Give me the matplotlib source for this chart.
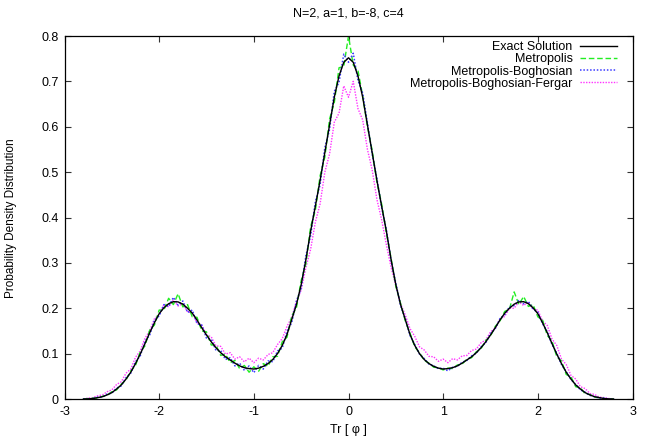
import numpy as np
import matplotlib
matplotlib.use("Agg")
import matplotlib.pyplot as plt

plt.rcParams['font.family'] = ['Liberation Sans', 'DejaVu Sans']

title = "N=2, a=1, b=-8, c=4"
xlabel = "Tr [ \u03c6 ]"
ylabel = "Probability Density Distribution"
labels = ["Exact Solution", "Metropolis", "Metropolis-Boghosian", "Metropolis-Boghosian-Fergar"]
xticks = [-3, -2, -1, 0, 1, 2, 3]
yticks = [0, 0.1, 0.2, 0.3, 0.4, 0.5, 0.6, 0.7, 0.8]
ytick_labels = ["0", "0.1", "0.2", "0.3", "0.4", "0.5", "0.6", "0.7", "0.8"]

# Tr(phi) grid, -2.8 .. 2.8 in steps of 0.05 (113 points)
trphi = np.round(np.linspace(-2.8, 2.8, 113), 3)

exact = [
    0.000, 0.0003, 0.001, 0.003, 0.005, 0.009, 0.014, 0.022, 0.031, 0.044,
    0.059, 0.078, 0.099, 0.122, 0.146, 0.168, 0.188, 0.201, 0.210, 0.2145,
    0.214, 0.209, 0.200, 0.189, 0.174, 0.157, 0.141, 0.126, 0.113, 0.102,
    0.093, 0.086, 0.079, 0.073, 0.069, 0.067, 0.066, 0.068, 0.072, 0.078,
    0.087, 0.100, 0.118, 0.142, 0.175, 0.208, 0.252, 0.307, 0.370, 0.425,
    0.482, 0.543, 0.604, 0.665, 0.712, 0.742, 0.752,
    0.742, 0.712, 0.665, 0.604, 0.543, 0.482, 0.425, 0.370, 0.307, 0.252,
    0.208, 0.175, 0.142, 0.118, 0.100, 0.087, 0.078, 0.072, 0.068, 0.066,
    0.067, 0.069, 0.073, 0.079, 0.086, 0.093, 0.102, 0.113, 0.126, 0.141,
    0.157, 0.174, 0.189, 0.200, 0.209, 0.214, 0.2145, 0.210, 0.201, 0.188,
    0.168, 0.146, 0.122, 0.099, 0.078, 0.059, 0.044, 0.031, 0.022, 0.014,
    0.009, 0.005, 0.003, 0.001, 0.0003, 0.000,
]

metropolis = [
    0.000, 0.001, 0.002, 0.002, 0.006, 0.008, 0.016, 0.020, 0.033, 0.042,
    0.062, 0.074, 0.104, 0.117, 0.152, 0.163, 0.196, 0.196, 0.222, 0.208,
    0.232, 0.203, 0.208, 0.181, 0.180, 0.150, 0.148, 0.119, 0.119, 0.096,
    0.099, 0.080, 0.085, 0.067, 0.074, 0.059, 0.071, 0.061, 0.078, 0.072,
    0.093, 0.094, 0.126, 0.136, 0.183, 0.201, 0.261, 0.298, 0.380, 0.416,
    0.492, 0.533, 0.617, 0.653, 0.730, 0.733, 0.800,
    0.736, 0.724, 0.668, 0.600, 0.548, 0.478, 0.430, 0.366, 0.310, 0.248,
    0.211, 0.172, 0.145, 0.115, 0.102, 0.085, 0.079, 0.070, 0.069, 0.064,
    0.068, 0.067, 0.075, 0.077, 0.088, 0.091, 0.104, 0.111, 0.129, 0.139,
    0.160, 0.172, 0.193, 0.198, 0.236, 0.208, 0.226, 0.204, 0.208, 0.181,
    0.174, 0.140, 0.128, 0.093, 0.084, 0.054, 0.049, 0.027, 0.025, 0.011,
    0.010, 0.004, 0.003, 0.001, 0.000, 0.000,
]

boghosian = [
    0.000, 0.000, 0.001, 0.004, 0.004, 0.011, 0.013, 0.024, 0.029, 0.047,
    0.057, 0.082, 0.095, 0.127, 0.141, 0.173, 0.183, 0.208, 0.204, 0.224,
    0.207, 0.216, 0.191, 0.196, 0.166, 0.163, 0.134, 0.132, 0.107, 0.107,
    0.087, 0.091, 0.073, 0.079, 0.063, 0.073, 0.058, 0.074, 0.066, 0.084,
    0.082, 0.106, 0.112, 0.149, 0.168, 0.216, 0.244, 0.316, 0.360, 0.435,
    0.472, 0.554, 0.594, 0.678, 0.698, 0.760, 0.742,
    0.762, 0.702, 0.674, 0.608, 0.540, 0.486, 0.422, 0.373, 0.305, 0.255,
    0.206, 0.177, 0.140, 0.120, 0.099, 0.089, 0.077, 0.073, 0.067, 0.068,
    0.062, 0.070, 0.072, 0.081, 0.085, 0.095, 0.101, 0.115, 0.124, 0.144,
    0.155, 0.177, 0.186, 0.203, 0.206, 0.218, 0.210, 0.215, 0.198, 0.191,
    0.166, 0.148, 0.120, 0.101, 0.076, 0.060, 0.043, 0.032, 0.020, 0.015,
    0.008, 0.005, 0.002, 0.002, 0.000, 0.000,
]

fergar = [
    0.000, 0.002, 0.003, 0.007, 0.009, 0.016, 0.020, 0.032, 0.038, 0.057,
    0.066, 0.092, 0.106, 0.134, 0.150, 0.177, 0.186, 0.208, 0.203, 0.218,
    0.205, 0.210, 0.192, 0.190, 0.168, 0.163, 0.141, 0.137, 0.117, 0.116,
    0.099, 0.102, 0.088, 0.093, 0.082, 0.090, 0.080, 0.090, 0.086, 0.098,
    0.102, 0.120, 0.133, 0.160, 0.180, 0.215, 0.240, 0.290, 0.330, 0.390,
    0.430, 0.500, 0.540, 0.610, 0.630, 0.690, 0.665,
    0.700, 0.640, 0.615, 0.550, 0.505, 0.440, 0.395, 0.340, 0.290, 0.250,
    0.210, 0.185, 0.155, 0.138, 0.115, 0.108, 0.094, 0.093, 0.083, 0.088,
    0.080, 0.089, 0.086, 0.095, 0.096, 0.107, 0.110, 0.124, 0.130, 0.148,
    0.156, 0.176, 0.182, 0.200, 0.200, 0.214, 0.206, 0.214, 0.198, 0.196,
    0.172, 0.162, 0.132, 0.118, 0.088, 0.076, 0.052, 0.044, 0.027, 0.023,
    0.012, 0.010, 0.004, 0.003, 0.001, 0.000,
]

for s in (exact, metropolis, boghosian, fergar):
    assert len(s) == len(trphi), len(s)

W, H = 654, 436
fig = plt.figure(figsize=(W / 100, H / 100), dpi=100)
ax = fig.add_axes([64.5 / W, (H - 399) / H, (632.5 - 64.5) / W, (399 - 36) / H])

l_ex, = ax.plot(trphi, exact, color="black", lw=1.0, zorder=5, label=labels[0])
l_me, = ax.plot(trphi, metropolis, color="#22ee22", lw=1.0, ls=(0, (4, 2)), zorder=2, label=labels[1])
l_bo, = ax.plot(trphi, boghosian, color="#3a3aff", lw=1.1, ls=(0, (1, 1.2)), zorder=3, label=labels[2])
l_fe, = ax.plot(trphi, fergar, color="#ff33ff", lw=1.0, ls=(0, (1, 1)), zorder=1, label=labels[3])

ax.set_xlim(-3, 3)
ax.set_ylim(0, 0.8)
ax.set_xticks(xticks)
ax.set_xticklabels([str(t) for t in xticks])
ax.set_yticks(yticks)
ax.set_yticklabels(ytick_labels)
ax.tick_params(direction="in", length=4.5, width=0.8, color="#333333",
               top=True, right=True, labelsize=9, pad=4)
ax.tick_params(axis="x", pad=5)
for sp in ax.spines.values():
    sp.set_linewidth(0.9)
    sp.set_color("black")

fig.text(348 / W, 1 - 14 / H, title, ha="center", va="center", fontsize=9)
fig.text(348 / W, 1 - 430 / H, xlabel, ha="center", va="center", fontsize=9)
fig.text(11.5 / W, 1 - 218 / H, ylabel, ha="center", va="center", rotation=90, fontsize=8.5)

leg = ax.legend(handles=[l_ex, l_me, l_bo, l_fe], loc="upper right",
                bbox_to_anchor=(617 / W, 1 - 41 / H), bbox_transform=fig.transFigure,
                frameon=False, markerfirst=False, fontsize=9,
                handlelength=3.0, handletextpad=0.56, labelspacing=0.02,
                borderpad=0, borderaxespad=0)

fig.savefig("out.png", dpi=100)
